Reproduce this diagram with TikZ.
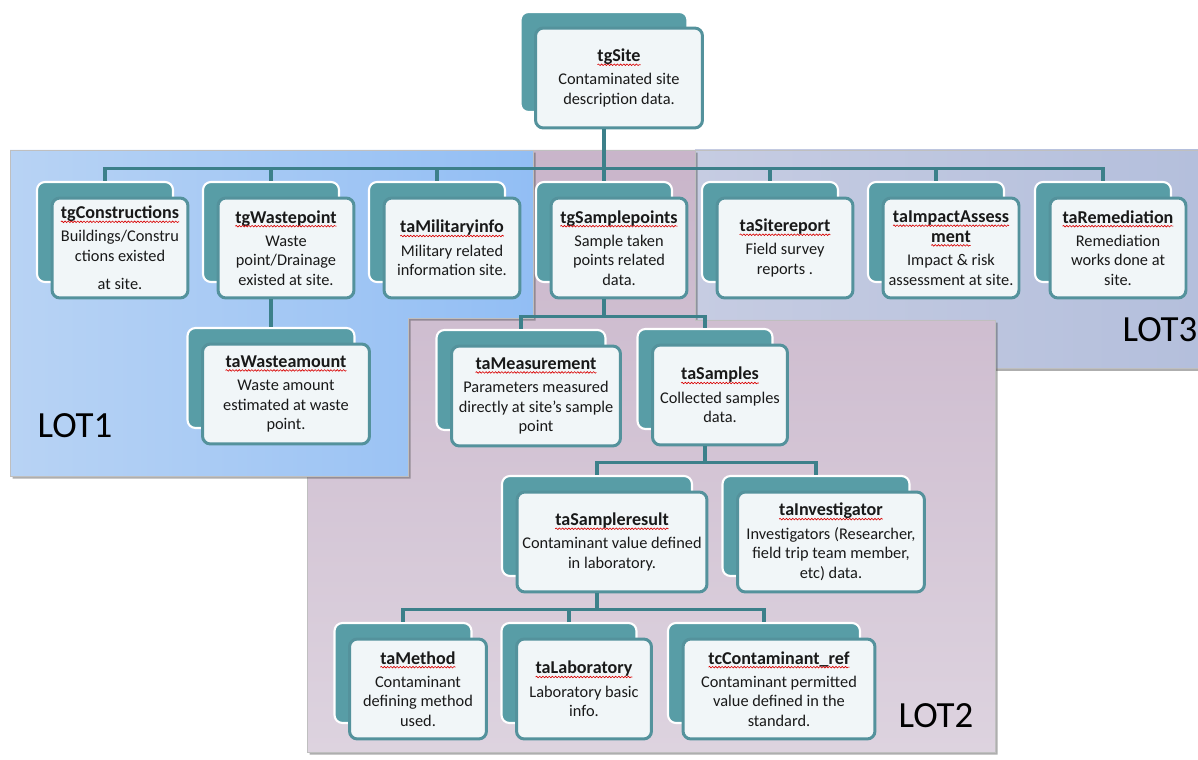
\documentclass[tikz,border=0pt]{standalone}
\definecolor{tealback}{RGB}{88,157,166}
\definecolor{tealedge}{RGB}{84,146,156}
\definecolor{tealline}{RGB}{60,128,138}
\definecolor{boxfill}{RGB}{241,246,248}
\definecolor{lotoneL}{RGB}{184,211,244}
\definecolor{lotoneR}{RGB}{146,190,244}
\definecolor{lottwoT}{RGB}{201,181,202}
\definecolor{lottwoB}{RGB}{221,211,223}
\definecolor{lotthreeL}{RGB}{198,204,226}
\definecolor{lotthreeR}{RGB}{180,191,220}
\usepackage{fontspec}
\setmainfont{Carlito}
\usepackage{tikz}
\usetikzlibrary{shadows,decorations.pathmorphing}

% red spell-check wave under a bold title word
\newcommand{\spell}[1]{\tikz[baseline=(w.base), x=1pt, y=1pt, sharp corners, line width=0.35pt]{%
    \node[inner sep=0pt, outer sep=0pt, minimum width=0pt, minimum height=0pt,
        font=\fontsize{10.3}{12}\selectfont\bfseries] (w) {#1};
    \draw[red!85!black, decorate, decoration={snake, amplitude=0.45pt, segment length=1.8pt}]
        ([yshift=-1.8pt]w.base west) -- ([yshift=-1.8pt]w.base east);}}
\newcommand{\ttl}[1]{\spell{#1}\\[2pt]}

\begin{document}
\begin{tikzpicture}[x=0.02cm, y=-0.02cm,
    entity/.style={draw=tealedge, line width=1.7pt, fill=boxfill, rounded corners=4.5pt,
        minimum width=#1, minimum height=2cm, align=center, inner sep=2pt,
        font=\fontsize{9.3}{11.2}\selectfont, text=black!90,
        copy shadow={shadow xshift=-0.3cm, shadow yshift=0.32cm, fill=tealback, draw=white, line width=1.2pt}},
    entity/.default=2.72cm,
    link/.style={draw=tealline, line width=2pt},
    lot/.style={draw=black!25, line width=0.4pt,
        drop shadow={shadow xshift=1.5pt, shadow yshift=-1.5pt, opacity=0.45, fill=black!70}},
    lotname/.style={font=\fontsize{21}{24}\selectfont}]
    \useasboundingbox (0,0) rectangle (1198,760);

    % lots
    \path[lot, left color=lotthreeL, right color=lotthreeR] (695,150) rectangle (1198,368);
    \path[lot, top color=lottwoT, bottom color=lottwoB] (533,150) -- (695,150) -- (695,320) -- (995,320)
        -- (995,752) -- (307,752) -- (307,318) -- (533,318) -- cycle;
    \path[lot, left color=lotoneL, right color=lotoneR] (10,150) -- (533,150) -- (533,318) -- (408,318)
        -- (408,476) -- (10,476) -- cycle;
    \node[lotname] (lot1) at (75,426) {LOT1};
    \node[lotname] (lot2) at (936,716) {LOT2};
    \node[lotname] (lot3) at (1160,330) {LOT3};

    % tables
    \node[entity=3.34cm] (site) at (619,78) {\ttl{tgSite}Contaminated site\\description data.};

    \node[entity] (cons) at (120,248) {\ttl{tgConstructions}Buildings/Constru\\ctions existed\\[5pt]at site.};
    \node[entity] (wastep) at (286,248) {\ttl{tgWastepoint}Waste\\point/Drainage\\existed at site.};
    \node[entity] (military) at (452,248) {\ttl{taMilitaryinfo}Military related\\information site.};
    \node[entity] (samplep) at (619,248) {\ttl{tgSamplepoints}Sample taken\\points related\\data.};
    \node[entity] (sitereport) at (785,248) {\ttl{taSitereport}Field survey\\reports .};
    \node[entity] (impact) at (951,248) {\spell{taImpactAssess}\\\ttl{ment}Impact \& risk\\assessment at site.};
    \node[entity] (remed) at (1118,248) {\ttl{taRemediation}Remediation\\works done at\\site.};

    \node[entity=3.34cm] (wasteamt) at (286,394) {\ttl{taWasteamount}Waste amount\\estimated at waste\\point.};
    \node[entity=3.38cm] (measure) at (536,396) {\ttl{taMeasurement}Parameters measured\\directly at site's sample\\point};
    \node[entity=2.7cm] (samples) at (720,395) {\ttl{taSamples}Collected samples\\data.};

    \node[entity=3.8cm] (sresult) at (612,542) {\ttl{taSampleresult}Contaminant value defined\\in laboratory.};
    \node[entity=3.74cm] (investig) at (831,542) {\ttl{taInvestigator}Investigators (Researcher,\\field trip team member,\\etc) data.};

    \node[entity=2.74cm] (method) at (418,689) {\ttl{taMethod}Contaminant\\defining method\\used.};
    \node[entity=2.7cm] (lab) at (584,689) {\ttl{taLaboratory}Laboratory basic\\info.};
    \node[entity=3.84cm] (contref) at (779,689) {\ttl{tcContaminant\_ref}Contaminant permitted\\value defined in the\\standard.};

    % links
    \foreach \c in {cons,wastep,military,samplep,sitereport,impact,remed}
        \draw[link] ([shift={(-15,0)}]site.south) -- ++(0,39) -| ([shift={(-15,-16)}]\c.north);
    \draw[link] ([shift={(-15,0)}]wastep.south) -- ([shift={(-15,-16)}]wasteamt.north);
    \foreach \c in {measure,samples}
        \draw[link] ([shift={(-15,0)}]samplep.south) -- ++(0,17) -| ([shift={(-15,-16)}]\c.north);
    \foreach \c in {sresult,investig}
        \draw[link] ([shift={(-15,0)}]samples.south) -- ++(0,16) -| ([shift={(-15,-16)}]\c.north);
    \foreach \c in {method,lab,contref}
        \draw[link] ([shift={(-15,0)}]sresult.south) -- ++(0,16) -| ([shift={(-15,-16)}]\c.north);
\end{tikzpicture}
\end{document}
